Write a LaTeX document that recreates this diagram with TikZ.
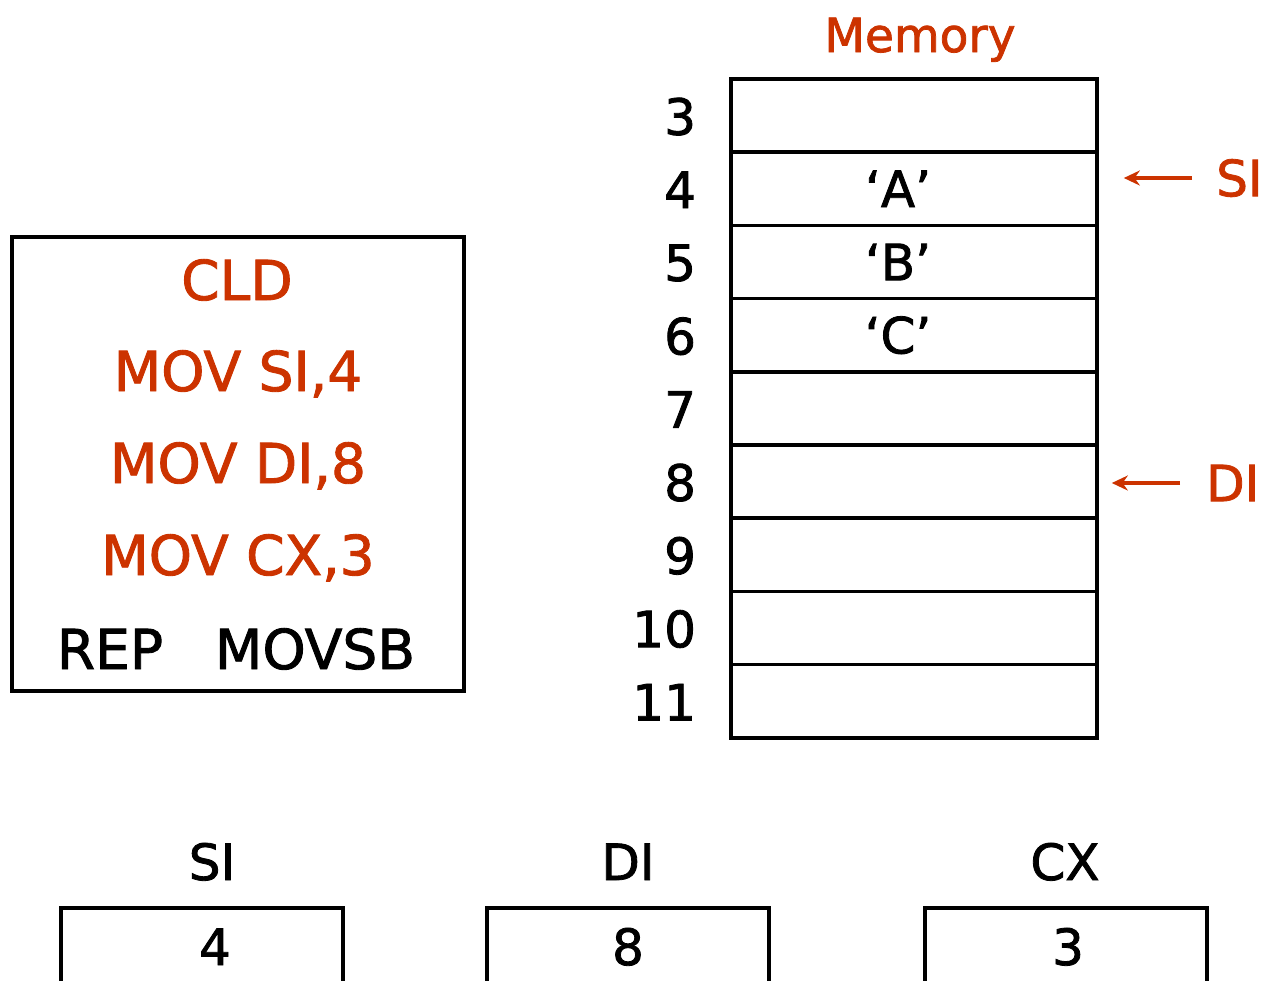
\documentclass[tikz,border=0pt]{standalone}
\usepackage{fontspec}
\setmainfont{DejaVu Sans}[FakeBold=1.6]
\usetikzlibrary{arrows.meta}
\definecolor{asmred}{RGB}{204,51,0}
\begin{document}
\begin{tikzpicture}[x=1pt,y=-1pt,
  cell/.style={draw, line width=3.6pt, minimum width=366pt, minimum height=73.2pt, inner sep=0pt},
  txt/.style={font=\fontsize{50}{60}\selectfont, inner sep=0pt},
  codetxt/.style={font=\fontsize{55}{66}\selectfont, inner sep=0pt, anchor=base},
  regbox/.style={draw, line width=3.6pt, minimum width=282pt, minimum height=84pt, inner sep=0pt},
  ptr/.style={draw=asmred, line width=3.6pt, -{Stealth[length=16pt,width=15pt]}}]
\useasboundingbox (0,0) rectangle (1282,980);
\clip (0,0) rectangle (1282,980);

% memory column with its addresses
\node[txt, anchor=base, text=asmred, font=\fontsize{47}{58}\selectfont] (memtitle) at (920,52) {Memory};
\foreach \i [count=\k from 0] in {3,...,11} {
  \node[cell] (c\i) at (914,115.6+73.2*\k) {};
  \node[txt, anchor=east, xshift=-33pt, yshift=-1pt] (a\i) at (c\i.west) {\i};
}
\node[txt, xshift=-16pt] (va) at (c4) {`A'};
\node[txt, xshift=-16pt] (vb) at (c5) {`B'};
\node[txt, xshift=-16pt] (vc) at (c6) {`C'};

% pointer labels
\node[txt, text=asmred, anchor=west] (sip) at (1216,178) {SI};
\node[txt, text=asmred, anchor=west] (dip) at (1206,483) {DI};
\draw[ptr, shorten <=24pt, shorten >=25pt] (sip.west) -- (sip.west -| c4.east);
\draw[ptr, shorten <=26pt, shorten >=13pt] (dip.west) -- (dip.west -| c8.east);

% program listing
\node[draw, line width=3.6pt, minimum width=452pt, minimum height=454pt] (code) at (238,464) {};
\node[codetxt, text=asmred] (l1) at (237,300) {CLD};
\node[codetxt, text=asmred] (l2) at (238,391) {MOV SI,4};
\node[codetxt, text=asmred] (l3) at (238,483) {MOV DI,8};
\node[codetxt, text=asmred] (l4) at (238,575) {MOV CX,3};
\node[codetxt] (l5a) at (110,669) {REP};
\node[codetxt] (l5b) at (315,669) {MOVSB};

% registers
\node[txt, anchor=base] (nsi) at (212,880) {SI};
\node[txt, anchor=base] (ndi) at (628,880) {DI};
\node[txt, anchor=base] (ncx) at (1065,880) {CX};
\node[regbox] (rsi) at (202,950) {};
\node[regbox] (rdi) at (628,950) {};
\node[regbox] (rcx) at (1066,950) {};
\node[txt, anchor=base] (vsi) at (215,965) {4};
\node[txt, anchor=base] (vdi) at (628,965) {8};
\node[txt, anchor=base] (vcx) at (1068,965) {3};
\end{tikzpicture}
\end{document}
